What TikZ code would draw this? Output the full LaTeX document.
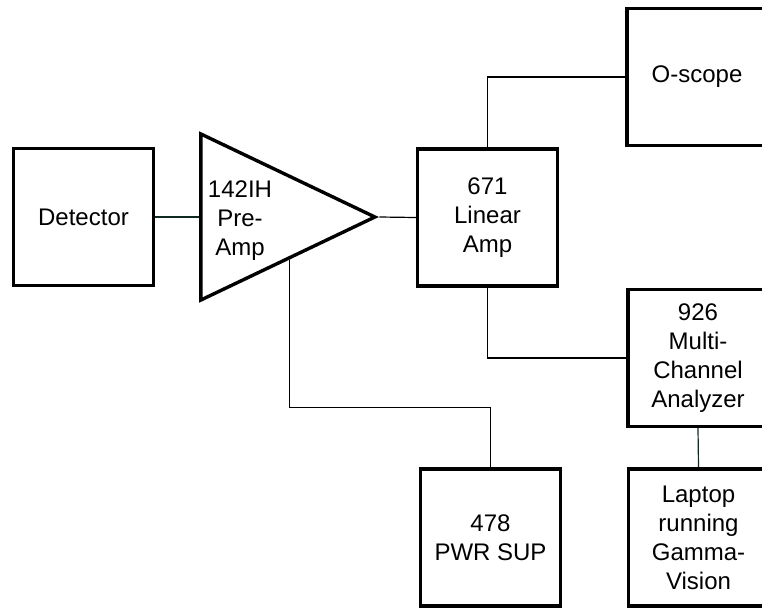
\documentclass[tikz,border=0pt]{standalone}
\usepackage{fontspec}
\setmainfont{Liberation Sans}
\usepackage{tikz}
\usetikzlibrary{positioning,calc,shapes.geometric}
\definecolor{Wire}{HTML}{0F2A22}

\begin{document}
\begin{tikzpicture}[
  x=1pt, y=-1pt,
  box/.style={draw=black, line width=3.4pt, minimum width=140pt, minimum height=137pt, inner sep=2pt, align=center, font=\fontsize{24}{29}\selectfont},
  amp/.style={draw=black, line width=3.4pt, shape=isosceles triangle, isosceles triangle stretches, minimum width=166pt, minimum height=174pt, inner sep=0pt},
  label/.style={align=center, font=\fontsize{24}{29}\selectfont},
  wire/.style={line width=1.2pt, draw=black},
  lead/.style={wire, draw=Wire}
]
  \useasboundingbox (0,0) rectangle (762,610);
  \clip (0,0) rectangle (762,610);
  \node[box] (det) at (83.5,217) {Detector};
  \node[amp, right=44pt of det] (pre) {};
  \node[label] (pretxt) at (240,221) {142IH\\Pre-\\Amp};
  \node[box] (lin) at (487.5,217.5) {671\\Linear\\Amp};
  \node[box] (osc) at (697,77) {O-scope};
  \node[box] (mca) at (698,358) {926\\Multi-\\Channel\\Analyzer};
  \node[box] (lap) at (698.5,537.5) {Laptop\\running\\Gamma-\\Vision};
  \node[box] (pwr) at (490.5,537.5) {478\\PWR SUP};
  \coordinate (tap) at ($(pre.apex)!0.5!(pre.right corner)$);
  \draw[lead] (det) -- (pre.west);
  \draw[wire] (pre.apex) -- (lin.west);
  \draw[wire] (lin.north) |- (osc.west);
  \draw[wire] (lin.south) |- (mca.west);
  \draw[lead] (mca.south) -- (lap.north);
  \draw[wire] (tap) |- ([yshift=60pt]pwr.north) -- (pwr.north);
\end{tikzpicture}
\end{document}
